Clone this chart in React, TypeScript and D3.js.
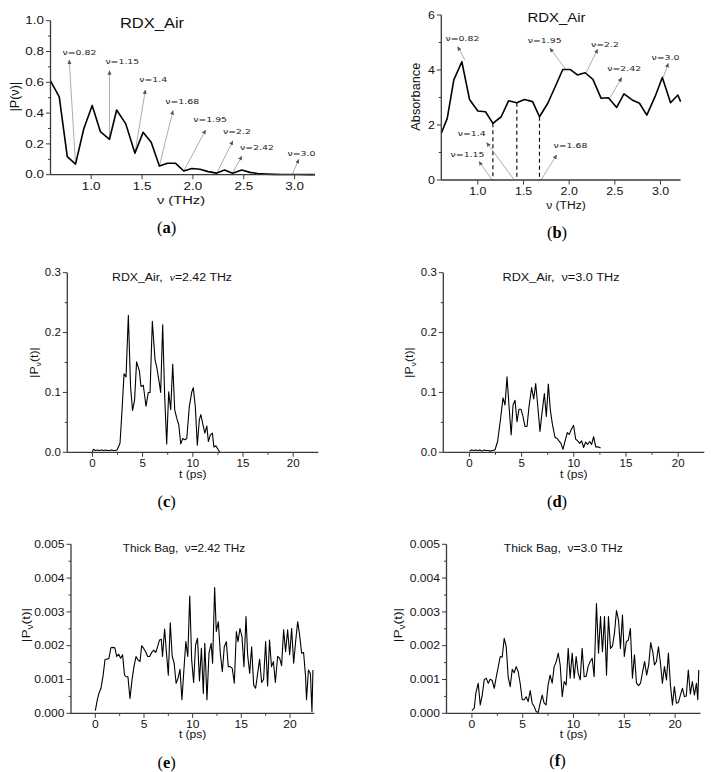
import React from 'react';
import * as d3 from 'd3';

const W = 711, H = 772;
const SANS = '"Liberation Sans", Arial, sans-serif';
const SERIF = '"Liberation Serif", "Times New Roman", serif';
const ANN = '"DejaVu Sans", sans-serif';

// ---------- (a) |P(ν)| spectrum
const freqA = [0.60,0.686,0.765,0.846,0.928,1.01,1.09,1.18,1.25,1.34,1.43,1.51,1.59,1.67,1.75,1.83,1.91,1.99,2.07,2.15,2.23,2.31,2.39,2.48,2.56,2.64,2.72,2.80,2.88,2.97,3.05,3.13,3.20];
const magA = [0.61,0.505,0.117,0.069,0.30,0.45,0.28,0.23,0.42,0.33,0.14,0.275,0.21,0.056,0.074,0.074,0.024,0.04,0.035,0.02,0.01,0.03,0.01,0.03,0.015,0.007,0.004,0.002,0.001,0.001,0.001,0.0005,0.0005];
const annA = [
  { label: 'ν=0.82', from: [0.846, 0.069], to: [0.784, 0.745], at: [0.884, 0.78] },
  { label: 'ν=1.15', from: [1.18, 0.23], to: [1.18, 0.675], at: [1.306, 0.719] },
  { label: 'ν=1.4', from: [1.43, 0.14], to: [1.533, 0.55], at: [1.61, 0.6] },
  { label: 'ν=1.68', from: [1.67, 0.056], to: [1.804, 0.416], at: [1.894, 0.459] },
  { label: 'ν=1.95', from: [1.91, 0.024], to: [2.125, 0.29], at: [2.169, 0.34] },
  { label: 'ν=2.2', from: [2.235, 0.01], to: [2.392, 0.219], at: [2.433, 0.264] },
  { label: 'ν=2.42', from: [2.39, 0.011], to: [2.48, 0.121], at: [2.63, 0.16] },
  { label: 'ν=3.0', from: [2.98, 0.004], to: [3.04, 0.10], at: [3.066, 0.121] },
];

// ---------- (b) Absorbance
const freqB = [0.60,0.665,0.737,0.825,0.909,1.0,1.084,1.165,1.256,1.336,1.427,1.51,1.60,1.675,1.766,1.847,1.93,2.01,2.09,2.175,2.26,2.35,2.43,2.52,2.60,2.69,2.77,2.85,2.94,3.02,3.11,3.19,3.22];
const absB = [1.70,2.24,3.64,4.30,2.93,2.51,2.48,2.06,2.30,2.88,2.81,2.93,2.85,2.30,2.79,3.39,4.02,4.02,3.82,3.90,3.66,2.97,2.99,2.64,3.13,2.91,2.79,2.36,3.03,3.73,2.81,3.09,2.85];
const dropFreqB = [1.165, 1.427, 1.675];
const annB = [
  { label: 'ν=0.82', from: [0.859, 4.36], to: [0.78, 4.85], at: [0.832, 5.07] },
  { label: 'ν=1.95', from: [1.954, 4.06], to: [1.79, 4.79], at: [1.732, 5.0] },
  { label: 'ν=2.2', from: [2.184, 3.90], to: [2.312, 4.75], at: [2.392, 4.82] },
  { label: 'ν=2.42', from: [2.447, 2.99], to: [2.575, 3.72], at: [2.602, 3.96] },
  { label: 'ν=3.0', from: [3.03, 3.73], to: [3.085, 4.24], at: [3.054, 4.36] },
  { label: 'ν=1.4', from: [1.399, 0], to: [1.097, 1.36], at: [0.933, 1.6] },
  { label: 'ν=1.15', from: [1.152, 0.03], to: [1.013, 0.67], at: [0.887, 0.85] },
  { label: 'ν=1.68', from: [1.691, 0], to: [1.863, 0.91], at: [2.014, 1.15] },
];

// ---------- (c) RDX_Air, ν=2.42 THz
const tC = [0,0.1,0.3,0.5,0.7,0.9,1.1,1.3,1.5,1.7,1.9,2.1,2.3,2.45,2.75,2.95,3.15,3.35,3.58,3.8,4.0,4.2,4.4,4.68,4.84,5.07,5.34,5.57,5.74,5.97,6.24,6.4,6.67,6.8,7.0,7.2,7.4,7.6,7.8,8.0,8.2,8.4,8.6,8.8,9.0,9.2,9.4,9.65,9.9,10.05,10.25,10.45,10.65,10.8,11.0,11.2,11.4,11.55,11.75,11.95,12.1,12.3,12.5,12.7];
const pC = [0.001,0.005,0.003,0.004,0.003,0.004,0.003,0.004,0.003,0.003,0.004,0.003,0.003,0.004,0.015,0.07,0.131,0.126,0.229,0.11,0.07,0.087,0.151,0.136,0.110,0.112,0.077,0.10,0.10,0.219,0.154,0.143,0.115,0.10,0.213,0.093,0.014,0.101,0.071,0.147,0.071,0.057,0.046,0.014,0.023,0.021,0.023,0.076,0.101,0.108,0.076,0.012,0.054,0.063,0.047,0.032,0.044,0.018,0.029,0.032,0.009,0.011,0.005,0.0];

// ---------- (d) RDX_Air, ν=3.0 THz
const tD = [0,0.2,0.4,0.6,0.8,1.0,1.2,1.4,1.6,1.8,2.0,2.2,2.45,2.7,2.97,3.22,3.41,3.6,3.8,4.0,4.18,4.37,4.56,4.75,4.94,5.13,5.33,5.52,5.7,5.96,6.16,6.35,6.54,6.76,6.95,7.18,7.37,7.56,7.75,7.94,8.2,8.4,8.58,8.77,8.96,9.15,9.38,9.57,9.76,9.98,10.18,10.37,10.56,10.75,10.94,11.13,11.32,11.52,11.7,11.9,12.1,12.35,12.57];
const pD = [0.002,0.004,0.003,0.004,0.003,0.004,0.002,0.004,0.003,0.003,0.002,0.003,0.004,0.018,0.054,0.091,0.079,0.126,0.076,0.029,0.079,0.087,0.051,0.072,0.072,0.06,0.043,0.043,0.075,0.108,0.089,0.115,0.079,0.035,0.065,0.098,0.06,0.114,0.071,0.048,0.025,0.023,0.019,0.015,0.005,0.018,0.033,0.030,0.038,0.045,0.022,0.019,0.015,0.019,0.008,0.017,0.013,0.018,0.013,0.026,0.009,0.009,0.007];

// ---------- (e) Thick Bag, ν=2.42 THz  (values ×1e-3)
const tE = [0,0.2,0.38,0.58,0.79,1.0,1.2,1.4,1.6,1.8,2.0,2.2,2.4,2.6,2.8,3.0,3.2,3.35,3.56,3.77,3.97,4.18,4.38,4.59,4.76,4.97,5.17,5.38,5.58,5.79,6.0,6.2,6.4,6.6,6.78,6.9,7.12,7.3,7.5,7.7,7.9,8.1,8.3,8.5,8.7,8.9,9.1,9.3,9.5,9.7,9.9,10.1,10.3,10.5,10.7,10.9,11.1,11.25,11.47,11.68,11.9,12.05,12.26,12.43,12.64,12.84,13.05,13.25,13.46,13.66,13.87,14.07,14.28,14.49,14.66,14.86,15.07,15.27,15.48,15.65,15.86,16.06,16.27,16.47,16.68,16.88,17.09,17.29,17.5,17.7,17.9,18.1,18.3,18.5,18.73,18.94,19.14,19.35,19.55,19.76,19.97,20.17,20.38,20.58,20.79,20.99,21.2,21.4,21.6,21.7,21.9,22.1,22.26,22.36];
const pE = [0.08,0.4,0.6,0.74,1.1,1.6,1.6,1.63,1.94,1.95,1.94,1.68,1.75,1.63,1.73,1.13,1.08,1.08,0.44,0.99,1.38,1.68,1.58,1.53,2.0,1.92,1.82,1.68,1.68,1.8,1.87,1.8,1.97,2.17,2.19,1.68,2.49,1.82,1.13,2.68,1.68,1.48,0.89,1.04,1.3,0.4,1.28,2.12,1.68,3.47,1.58,0.91,2.02,2.22,0.96,1.92,0.59,2.07,0.4,1.78,2.07,1.48,3.72,2.42,2.71,1.78,1.23,1.97,2.12,1.38,1.38,1.33,0.89,2.42,2.12,2.51,2.27,1.38,2.86,1.73,1.18,1.97,0.84,0.74,1.18,1.6,0.91,1.01,2.12,0.81,2.17,1.38,1.53,0.91,1.68,1.63,1.41,2.47,1.82,2.47,1.73,2.51,1.48,2.12,2.71,2.32,1.78,1.8,1.1,0.4,1.28,1.18,0.05,1.28];

// ---------- (f) Thick Bag, ν=3.0 THz  (values ×1e-3)
const tF = [0,0.23,0.39,0.62,0.82,1.02,1.21,1.41,1.61,1.8,2.0,2.2,2.4,2.6,2.79,2.98,3.18,3.38,3.57,3.77,3.97,4.16,4.36,4.56,4.75,4.95,5.15,5.34,5.54,5.74,5.93,6.13,6.33,6.52,6.72,6.92,7.11,7.3,7.5,7.7,7.9,8.1,8.3,8.5,8.69,8.89,9.08,9.28,9.48,9.67,9.87,10.07,10.26,10.46,10.66,10.85,11.05,11.25,11.44,11.64,11.84,12.03,12.26,12.46,12.66,12.85,13.05,13.25,13.44,13.64,13.84,14.03,14.23,14.43,14.62,14.82,15.0,15.2,15.4,15.6,15.8,16.0,16.2,16.4,16.6,16.8,17.0,17.2,17.4,17.6,17.8,17.97,18.16,18.36,18.56,18.75,18.95,19.15,19.34,19.54,19.74,19.93,20.13,20.33,20.52,20.72,20.92,21.1,21.3,21.5,21.7,21.9,22.1,22.23,22.33];
const pF = [0.08,0.15,0.6,0.89,0.25,0.54,0.99,1.04,0.89,1.01,0.97,0.74,1.08,1.38,1.68,1.66,2.22,1.97,1.08,0.79,1.3,1.2,1.38,1.23,0.89,0.4,0.4,0.49,0.35,0.67,0.3,0.2,0.05,0.02,0.3,0.54,0.3,0.25,0.84,1.13,0.89,1.38,1.53,1.78,1.43,0.49,0.94,0.84,1.92,1.04,1.78,1.04,1.68,1.18,0.99,1.92,1.08,1.1,1.38,1.53,1.63,1.08,3.25,1.78,2.86,1.82,2.86,1.13,2.86,1.92,1.99,2.37,3.04,2.76,1.92,2.91,1.68,2.12,2.17,2.51,1.04,1.73,0.89,0.82,0.89,1.23,1.53,1.13,1.43,2.09,1.82,1.43,1.53,1.97,1.48,0.89,1.38,0.99,1.78,0.84,0.25,0.79,0.3,0.32,0.54,0.74,0.49,0.51,1.28,0.57,0.94,0.54,0.89,0.4,1.28];

// ---------- ticks
const freqTicks = [1.0, 1.5, 2.0, 2.5, 3.0];
const aYTicks = [0, 0.2, 0.4, 0.6, 0.8, 1.0];
const aYMinor = [0.1, 0.3, 0.5, 0.7, 0.9];
const bYTicks = [0, 2, 4, 6];
const bYMinor = [1, 3, 5];
const tTicks = [0, 5, 10, 15, 20];
const tMinor = [2.5, 7.5, 12.5, 17.5];
const cdYTicks = [0, 0.1, 0.2, 0.3];
const cdYMinor = [0.05, 0.15, 0.25];
const efYTicks = [0, 0.001, 0.002, 0.003, 0.004, 0.005];
const efYMinor = [0.0005, 0.0015, 0.0025, 0.0035, 0.0045];

function T({ x, y, size, sx = 1, anchor = 'middle', rot = 0, family = SANS, weight = 'normal', fill = '#111', children }: any) {
  return (
    <text transform={`translate(${x},${y}) rotate(${rot}) scale(${sx},1)`} fontSize={size} textAnchor={anchor}
      fontFamily={family} fontWeight={weight} fill={fill}>{children}</text>
  );
}

type Cfg = {
  xs: number[]; ys: number[];
  xDomain: [number, number]; xRange: [number, number];
  yDomain: [number, number]; yRange: [number, number];
  xTicks: number[]; xMinor: number[]; yTicks: number[]; yMinor: number[];
  xFmt: (v: number) => string; yFmt: (v: number) => string;
  tickSize: number; tickSx: number; lineW: number;
};

function Panel({ cfg, extra }: { cfg: Cfg; extra?: (x: any, y: any) => React.ReactNode }) {
  const x = d3.scaleLinear().domain(cfg.xDomain).range(cfg.xRange);
  const y = d3.scaleLinear().domain(cfg.yDomain).range(cfg.yRange);
  const line = d3.line<number>().x((_, i) => x(cfg.xs[i])).y(d => y(d));
  const ax = cfg.xRange[0], ay = cfg.yRange[0];
  const axisColor = '#3a3a3a';
  return (
    <g>
      {extra && extra(x, y)}
      <path d={line(cfg.ys) || ''} fill="none" stroke="#000" strokeWidth={cfg.lineW} strokeLinejoin="round" />
      <line x1={ax} x2={ax} y1={ay} y2={cfg.yRange[1]} stroke={axisColor} strokeWidth={1.3} />
      <line x1={ax} x2={cfg.xRange[1]} y1={ay} y2={ay} stroke={axisColor} strokeWidth={1.3} />
      {cfg.yTicks.map(v => (
        <g key={'yt' + v}>
          <line x1={ax - 4.5} x2={ax} y1={y(v)} y2={y(v)} stroke={axisColor} strokeWidth={1} />
          <T x={ax - 6.5} y={y(v) + cfg.tickSize * 0.36} size={cfg.tickSize} sx={cfg.tickSx} anchor="end">{cfg.yFmt(v)}</T>
        </g>
      ))}
      {cfg.yMinor.map(v => (
        <line key={'ym' + v} x1={ax - 2.5} x2={ax} y1={y(v)} y2={y(v)} stroke={axisColor} strokeWidth={1} />
      ))}
      {cfg.xTicks.map(v => (
        <g key={'xt' + v}>
          <line x1={x(v)} x2={x(v)} y1={ay} y2={ay + 4.5} stroke={axisColor} strokeWidth={1} />
          <T x={x(v)} y={ay + 15} size={cfg.tickSize} sx={cfg.tickSx}>{cfg.xFmt(v)}</T>
        </g>
      ))}
      {cfg.xMinor.map(v => (
        <line key={'xm' + v} x1={x(v)} x2={x(v)} y1={ay} y2={ay + 2.5} stroke={axisColor} strokeWidth={1} />
      ))}
    </g>
  );
}

function Annotations({ items, x, y }: any) {
  return (
    <g>
      {items.map((a: any, i: number) => (
        <g key={i}>
          <line x1={x(a.from[0])} y1={y(a.from[1])} x2={x(a.to[0])} y2={y(a.to[1])} stroke="#8a8a8a" strokeWidth={0.7} markerEnd="url(#ah)" />
          <T x={x(a.at[0])} y={y(a.at[1])} size={7.5} sx={1.25} family={ANN} fill="#222">{a.label}</T>
        </g>
      ))}
    </g>
  );
}

function PLabel({ children }: any) {
  return (
    <>
      <tspan>|P</tspan>
      <tspan dy={2.5} fontSize="0.72em">ν</tspan>
      <tspan dy={-2.5}>(t)|</tspan>
    </>
  );
}

function Letter({ x, y, ch }: any) {
  return (
    <text x={x} y={y} fontSize={16.5} textAnchor="middle" fontFamily={SERIF} fill="#000">
      (<tspan fontWeight="bold">{ch}</tspan>)
    </text>
  );
}

const f1 = d3.format('.1f');
const f3 = d3.format('.3f');
const fi = d3.format('d');

export default function App() {
  const cfgA: Cfg = {
    xs: freqA, ys: magA, xDomain: [0.6, 3.2], xRange: [50.5, 315], yDomain: [0, 1], yRange: [174.7, 20.7],
    xTicks: freqTicks, xMinor: [], yTicks: aYTicks, yMinor: aYMinor, xFmt: f1, yFmt: f1,
    tickSize: 10.5, tickSx: 1.28, lineW: 1.6,
  };
  const cfgB: Cfg = {
    xs: freqB, ys: absB, xDomain: [0.6, 3.22], xRange: [441.3, 680.6], yDomain: [0, 6], yRange: [180, 15],
    xTicks: freqTicks, xMinor: [], yTicks: bYTicks, yMinor: bYMinor, xFmt: f1, yFmt: fi,
    tickSize: 10.5, tickSx: 1.18, lineW: 1.6,
  };
  const cfgC: Cfg = {
    xs: tC, ys: pC, xDomain: [-2.5, 22.5], xRange: [67.3, 318.3], yDomain: [0, 0.3], yRange: [452.3, 272.7],
    xTicks: tTicks, xMinor: tMinor, yTicks: cdYTicks, yMinor: cdYMinor, xFmt: fi, yFmt: f1,
    tickSize: 10, tickSx: 1.15, lineW: 1.1,
  };
  const cfgD: Cfg = { ...cfgC, xs: tD, ys: pD, xRange: [443.3, 704.3] };
  const cfgE: Cfg = {
    xs: tE, ys: pE.map(v => v / 1000), xDomain: [-2.5, 22.5], xRange: [71, 314.3], yDomain: [0, 0.005], yRange: [713.3, 544.3],
    xTicks: tTicks, xMinor: tMinor, yTicks: efYTicks, yMinor: efYMinor, xFmt: fi, yFmt: f3,
    tickSize: 10.5, tickSx: 1.15, lineW: 1.1,
  };
  const cfgF: Cfg = { ...cfgE, xs: tF, ys: pF.map(v => v / 1000), xRange: [446.5, 700.5] };

  return (
    <svg width={W} height={H} style={{ position: 'absolute', left: 0, top: 0, background: '#fff' }}>
      <defs>
        <marker id="ah" viewBox="0 0 10 10" refX="9" refY="5" markerWidth="4.5" markerHeight="4.5" markerUnits="userSpaceOnUse" orient="auto">
          <path d="M0,0.5 L10,5 L0,9.5 z" fill="#555" />
        </marker>
      </defs>
      <rect width={W} height={H} fill="#fff" />

      {/* (a) */}
      <Panel cfg={cfgA} extra={(x, y) => <Annotations items={annA} x={x} y={y} />} />
      <T x={152} y={28.3} size={14} sx={1.18}>RDX_Air</T>
      <T x={19} y={96.7} size={12} sx={1.05} rot={-90}>|P(ν)|</T>
      <T x={181} y={204} size={11.5} sx={1.28}>ν (THz)</T>
      <Letter x={166.7} y={233} ch="a" />

      {/* (b) */}
      <Panel cfg={cfgB} extra={(x, y) => (
        <g>
          {dropFreqB.map(f => {
            const v = absB[freqB.indexOf(f)];
            return <line key={f} x1={x(f)} x2={x(f)} y1={y(v)} y2={y(0)} stroke="#000" strokeWidth={1.1} strokeDasharray="4,3" />;
          })}
          <Annotations items={annB} x={x} y={y} />
        </g>
      )} />
      <T x={556.5} y={21.7} size={13} sx={1.15}>RDX_Air</T>
      <T x={420} y={96.7} size={12} sx={1.06} rot={-90}>Absorbance</T>
      <T x={566} y={209} size={11} sx={1.1}>ν (THz)</T>
      <Letter x={557} y={238} ch="b" />

      {/* (c) */}
      <Panel cfg={cfgC} />
      <T x={172} y={280.7} size={11} sx={1.12}>RDX_Air,{'\u00a0\u00a0'}<tspan fontFamily={SERIF} fontStyle="italic">ν</tspan>=2.42 THz</T>
      <T x={38} y={362.5} size={11} sx={1.12} rot={-90}><PLabel /></T>
      <T x={192.8} y={478} size={10.5} sx={1.15}>t (ps)</T>
      <Letter x={166.7} y={507} ch="c" />

      {/* (d) */}
      <Panel cfg={cfgD} />
      <T x={561} y={280.7} size={11} sx={1.15}>RDX_Air,{'\u00a0\u00a0'}ν=3.0 THz</T>
      <T x={413} y={362.5} size={11} sx={1.12} rot={-90}><PLabel /></T>
      <T x={573.8} y={478} size={10.5} sx={1.15}>t (ps)</T>
      <Letter x={557} y={507} ch="d" />

      {/* (e) */}
      <Panel cfg={cfgE} />
      <T x={184} y={552} size={10.5} sx={1.12}>Thick Bag,{'\u00a0\u00a0'}ν=2.42 THz</T>
      <T x={30} y={625} size={11.5} sx={1.2} rot={-90}><PLabel /></T>
      <T x={192.6} y={738} size={10.5} sx={1.15}>t (ps)</T>
      <Letter x={166.7} y={768} ch="e" />

      {/* (f) */}
      <Panel cfg={cfgF} />
      <T x={563.3} y={552} size={10.5} sx={1.15}>Thick Bag,{'\u00a0\u00a0'}ν=3.0 THz</T>
      <T x={402} y={625} size={11.5} sx={1.2} rot={-90}><PLabel /></T>
      <T x={573.5} y={738} size={10.5} sx={1.15}>t (ps)</T>
      <Letter x={557.5} y={766} ch="f" />
    </svg>
  );
}
